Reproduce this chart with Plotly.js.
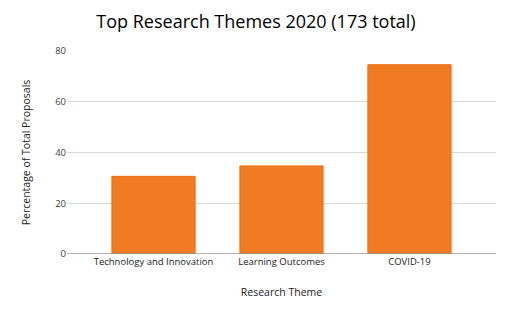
<!DOCTYPE html>
<html>
<head>
<meta charset="utf-8">
<script src="https://cdn.plot.ly/plotly-3.0.1.min.js"></script>
<style>html,body{margin:0;padding:0;background:#fff;}#chart{width:512px;height:317px;}</style>
</head>
<body>
<div id="chart"></div>
<script>
// Share of the 173 proposals per research theme (%)
const themes = ["Technology and Innovation", "Learning Outcomes", "COVID-19"];
const percentages = [30.6, 34.7, 74.6];
const yTicks = [0, 20, 40, 60, 80];

const trace = {
  type: "bar",
  x: themes,
  y: percentages,
  marker: { color: "#F07B22", line: { color: "#EB6F10", width: 1 } },
  hoverinfo: "x+y"
};

const layout = {
  width: 512,
  height: 317,
  margin: { l: 67, r: 16, t: 51, b: 63 },
  paper_bgcolor: "#ffffff",
  plot_bgcolor: "#ffffff",
  bargap: 0.35,
  showlegend: false,
  font: { family: "Open Sans, Liberation Sans, sans-serif" },
  title: {
    text: "Top Research Themes 2020 (173 total)",
    font: { size: 18, color: "#000000", family: "Open Sans, sans-serif" },
    x: 0.5, xanchor: "center", y: 0.93, yanchor: "middle", yref: "container"
  },
  xaxis: {
    range: [-0.676, 2.676],
    showgrid: false,
    showline: false,
    zeroline: false,
    ticks: "",
    tickfont: { size: 9.5, color: "#222222" },
    title: { text: "Research Theme", font: { size: 10.5, color: "#222222" }, standoff: 22 }
  },
  yaxis: {
    range: [0, 80],
    tickvals: yTicks,
    ticktext: yTicks.map(String),
    showgrid: true,
    gridcolor: "#d9d9d9",
    gridwidth: 1,
    zeroline: false,
    showline: false,
    ticks: "",
    ticklen: 0,
    tickfont: { size: 9.5, color: "#444444" },
    title: { text: "Percentage of Total Proposals", font: { size: 10.5, color: "#222222" }, standoff: 22 }
  },
  shapes: [{
    type: "line", xref: "paper", yref: "y",
    x0: 0, x1: 1, y0: 0, y1: 0,
    line: { color: "#999999", width: 1.5 }
  }]
};

Plotly.newPlot("chart", [trace], layout, { displayModeBar: false, staticPlot: true });
</script>
</body>
</html>
